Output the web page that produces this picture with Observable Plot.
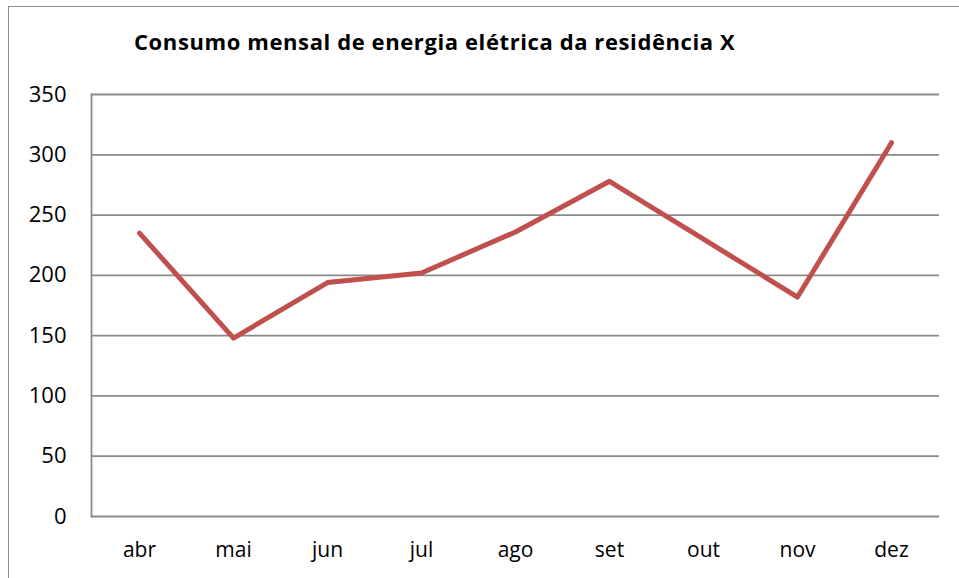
<!DOCTYPE html>
<html>
<head>
<meta charset="utf-8">
<script src="https://cdn.jsdelivr.net/npm/d3@7"></script>
<script src="https://cdn.jsdelivr.net/npm/@observablehq/plot@0.6"></script>
<style>
  html, body { margin: 0; padding: 0; background: #fff; }
  #wrap { position: relative; width: 959px; height: 578px; overflow: hidden; font-family: "Open Sans", sans-serif; }
  #border { position: absolute; left: 8px; top: 6px; width: 1000px; height: 700px; border-left: 1.5px solid #8c8c8c; border-top: 1.5px solid #8c8c8c; box-sizing: border-box; }
  #title { position: absolute; left: 134px; top: 30px; font-size: 22px; letter-spacing: 0.6px; font-weight: bold; color: #000; white-space: nowrap; line-height: 1; }
  #chart { position: absolute; left: 0; top: 0; }
</style>
</head>
<body>
<div id="wrap">
  <div id="border"></div>
  <div id="chart"></div>
  <div id="title">Consumo mensal de energia elétrica da residência X</div>
</div>
<script>
const months = ["abr", "mai", "jun", "jul", "ago", "set", "out", "nov", "dez"];
const consumo = [235, 148, 194, 202, 236, 278, 230, 182, 310];
const yTicks = [0, 50, 100, 150, 200, 250, 300, 350];

const data = months.map((m, i) => ({month: m, value: consumo[i]}));

const chart = Plot.plot({
  width: 959,
  height: 578,
  marginLeft: 91,
  marginRight: 20,
  marginTop: 94,
  marginBottom: 62,
  style: {fontFamily: "Open Sans, sans-serif", background: "transparent", color: "#000"},
  x: {type: "point", domain: months, padding: 0.5, label: null},
  y: {domain: [0, 350], label: null},
  marks: [
    Plot.ruleY(yTicks, {stroke: "#8a8a8a", strokeWidth: 1.8, strokeOpacity: 1}),
    Plot.frame({anchor: "left", stroke: "#8a8a8a", strokeWidth: 1.8}),
    Plot.axisY(yTicks, {tickSize: 0, tickPadding: 25, fontSize: 22, label: null, tickFormat: d => String(d)}),
    Plot.axisX({tickSize: 0, tickPadding: 26, fontSize: 21, label: null}),
    Plot.line(data, {x: "month", y: "value", stroke: "#C0504D", strokeWidth: 5, strokeLinejoin: "round", strokeLinecap: "round"})
  ]
});
document.getElementById("chart").appendChild(chart);
</script>
</body>
</html>
